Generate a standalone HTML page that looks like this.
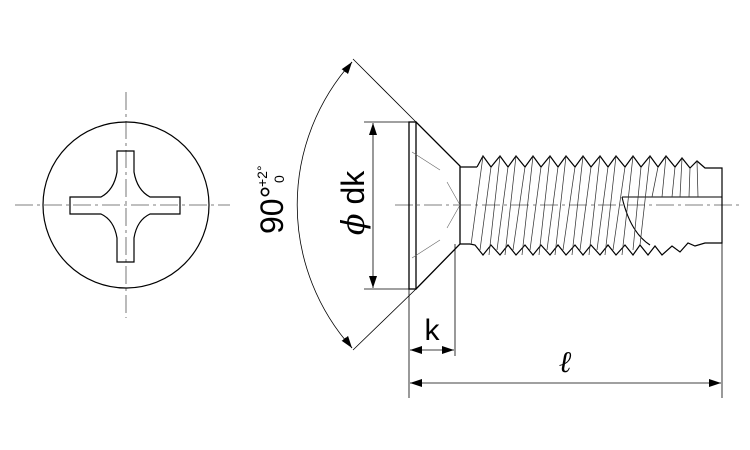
<!DOCTYPE html>
<html><head><meta charset="utf-8"><style>body{margin:0;background:#fff}svg{display:block}</style></head><body>
<svg width="750" height="450" viewBox="0 0 750 450" xmlns="http://www.w3.org/2000/svg" font-family="Liberation Sans, sans-serif">
<defs><marker id="a" markerWidth="12" markerHeight="8" refX="12" refY="4" orient="auto" markerUnits="userSpaceOnUse"><path d="M0,0 L12,4 L0,8 z" fill="#000"/></marker></defs>
<g fill="none" stroke="#000">
<line x1="126" y1="92" x2="126" y2="318" stroke="#555" stroke-width="0.8" stroke-dasharray="18,4,3,4"/>
<line x1="15" y1="205" x2="230" y2="205" stroke="#555" stroke-width="0.8" stroke-dasharray="18,4,3,4"/>
<circle cx="126" cy="205" r="83" stroke-width="1.2"/>
<path d="M117,151 L134,151 L134,172 Q137,190 150,197 L180,197 L180,214 L150,214 Q137,220 134,238 L134,262 L117,262 L117,238 Q114,220 101,214 L70,214 L70,197 L101,197 Q114,190 117,172 Z" stroke-width="1.2"/>
<line x1="395" y1="205" x2="740" y2="205" stroke="#555" stroke-width="0.8" stroke-dasharray="18,4,3,4"/>
<rect x="409" y="122" width="7" height="167" stroke-width="1.3"/>
<path d="M416,122 L460,166 L460,244 L416,289" stroke-width="1.3"/>
<path d="M412,152 L440,170 M447,182 L460,205 L447,228 M440,240 L412,258" stroke="#666" stroke-width="0.6"/>
<path d="M460,167 L477,167 M460,244 L470,244" stroke-width="1.2"/>
<path d="M477,167 L483,156 L491,167 L500,156 L508,167 L516,156 L525,167 L533,156 L541,167 L550,156 L558,167 L566,156 L575,167 L583,156 L591,167 L600,156 L608,167 L616,156 L625,167 L633,156 L641,167 L650,156 L658,167 L666,156 L675,167 L682,158 L690,168 L697,161 L705,168 L722,168 L722,243 L705,243 L695,246 L688,243 L680,252 L672,246 L662,255 L655,246 L648,255 L640,245 L633,255 L625,245 L616,255 L608,245 L600,255 L591,245 L583,255 L575,245 L566,255 L558,245 L550,255 L541,245 L533,255 L525,245 L516,255 L508,245 L500,255 L491,245 L483,255 L475,245 L470,244" stroke-width="1.2"/>
<path d="M622,197 L722,197 M622,197 Q630,232 650,245" stroke-width="1.1"/>
<g stroke="#333" stroke-width="0.75">
<path d="M483,156 L471,245 M491,167 L480,250 M500,156 L489,255 M508,167 L497,250 M516,156 L505,255 M525,167 L513,250 M533,156 L522,255 M541,167 L530,250 M550,156 L539,255 M558,167 L547,250 M566,156 L555,255 M575,167 L563,250 M583,156 L572,255 M591,167 L580,250 M600,156 L589,255 M608,167 L597,250 M616,156 L605,255 M625,167 L613,250 M633,156 L622,255 M641,167 L633,250 M650,156 L640,245 M658,167 L652,197 M666,156 L662,197 M675,167 L672,197 M682,158 L680,197 M690,168 L689,197 M697,161 L698,197"/>
</g>
<g stroke-width="0.8">
<line x1="364" y1="122" x2="409" y2="122"/><line x1="364" y1="289" x2="409" y2="289"/>
<line x1="373" y1="205" x2="373" y2="123" marker-end="url(#a)"/><line x1="373" y1="205" x2="373" y2="288" marker-end="url(#a)"/>
<line x1="409" y1="289" x2="409" y2="398"/><line x1="455" y1="244" x2="455" y2="356"/><line x1="722" y1="243" x2="722" y2="398"/>
<line x1="432" y1="350" x2="410" y2="350" marker-end="url(#a)"/><line x1="432" y1="350" x2="454" y2="350" marker-end="url(#a)"/>
<line x1="565" y1="383" x2="410" y2="383" marker-end="url(#a)"/><line x1="565" y1="383" x2="721" y2="383" marker-end="url(#a)"/>
<line x1="353" y1="59" x2="416" y2="122"/><line x1="353" y1="350" x2="416" y2="289"/>
<path d="M352,62 A214,214 0 0 0 352,348" />
<path d="M345,72 A214,214 0 0 1 352,62" marker-end="url(#a)"/>
<path d="M345,338 A214,214 0 0 0 352,348" marker-end="url(#a)"/>
</g>
</g>
<g fill="#000">
<text x="0" y="0" font-size="32" transform="translate(283,234) rotate(-90)">90°</text>
<text x="0" y="0" font-size="14" transform="translate(267,187) rotate(-90)">+2°</text>
<text x="0" y="0" font-size="14" transform="translate(284,183) rotate(-90)">0</text>
<text x="0" y="0" font-size="32" text-anchor="middle" transform="translate(364,203) rotate(-90)"><tspan font-style="italic" font-family="DejaVu Serif, serif">ϕ</tspan> dk</text>
<text x="432" y="340" font-size="30" text-anchor="middle">k</text>
<text x="565" y="372" font-size="30" text-anchor="middle" font-style="italic" font-family="DejaVu Serif, serif">ℓ</text>
</g>
</svg>
</body></html>
